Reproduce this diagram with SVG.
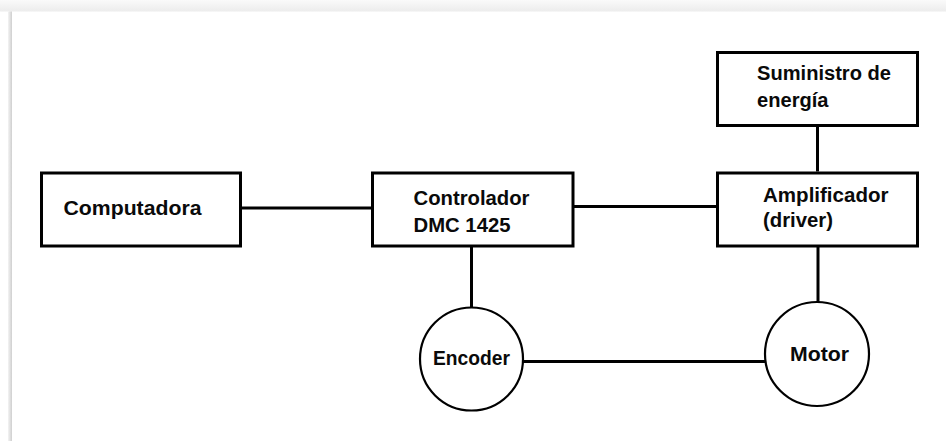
<svg xmlns="http://www.w3.org/2000/svg" width="946" height="441" viewBox="0 0 946 441">
  <defs>
    <linearGradient id="topShade" x1="0" y1="0" x2="0" y2="1">
      <stop offset="0" stop-color="#fafafa"/>
      <stop offset="1" stop-color="#ececec"/>
    </linearGradient>
    <linearGradient id="leftShade" x1="0" y1="0" x2="1" y2="0">
      <stop offset="0" stop-color="#f4f4f4"/>
      <stop offset="1" stop-color="#cfcfcf"/>
    </linearGradient>
  </defs>
  <style>
    .box { fill: #ffffff; stroke: #000000; stroke-width: 3; }
    .circ { fill: #ffffff; stroke: #000000; stroke-width: 2.2; }
    .wire { stroke: #000000; stroke-width: 3; fill: none; }
    .lbl { font-family: "Liberation Sans", Arial, sans-serif; font-weight: bold; font-size: 19.5px; fill: #0a0a0a; }
  </style>
  <rect x="0" y="0" width="946" height="441" fill="#ffffff"/>
  <rect x="0" y="0" width="946" height="11.5" fill="url(#topShade)"/>
  <rect x="8" y="11.5" width="4" height="429.5" fill="url(#leftShade)"/>

  <g id="connectors">
    <line class="wire" x1="242" y1="208" x2="371" y2="208"/>
    <line class="wire" x1="574" y1="206.5" x2="716" y2="206.5"/>
    <line class="wire" x1="817.5" y1="127" x2="817.5" y2="171.5"/>
    <line class="wire" x1="471.5" y1="247" x2="471.5" y2="308"/>
    <line class="wire" x1="818" y1="247" x2="818" y2="302"/>
    <line class="wire" x1="523" y1="361.5" x2="765" y2="361.5"/>
  </g>

  <g id="computadora">
    <rect class="box" x="41.5" y="173" width="199" height="73"/>
    <text class="lbl" x="63.5" y="215" textLength="138" lengthAdjust="spacingAndGlyphs">Computadora</text>
  </g>

  <g id="controlador">
    <rect class="box" x="372.5" y="173" width="200.5" height="73"/>
    <text class="lbl" x="413.5" y="205" textLength="116" lengthAdjust="spacingAndGlyphs">Controlador</text>
    <text class="lbl" x="413.5" y="232" textLength="97" lengthAdjust="spacingAndGlyphs">DMC 1425</text>
  </g>

  <g id="suministro">
    <rect class="box" x="717.5" y="52.5" width="200" height="73"/>
    <text class="lbl" x="757" y="80" textLength="134" lengthAdjust="spacingAndGlyphs">Suministro de</text>
    <text class="lbl" x="757" y="106.5" textLength="71.5" lengthAdjust="spacingAndGlyphs">energía</text>
  </g>

  <g id="amplificador">
    <rect class="box" x="717.5" y="173" width="200" height="73"/>
    <text class="lbl" x="763" y="202" textLength="125.5" lengthAdjust="spacingAndGlyphs">Amplificador</text>
    <text class="lbl" x="763" y="227" textLength="70" lengthAdjust="spacingAndGlyphs">(driver)</text>
  </g>

  <g id="encoder">
    <circle class="circ" cx="471.5" cy="359" r="51.5"/>
    <text class="lbl" x="433" y="365" textLength="77" lengthAdjust="spacingAndGlyphs">Encoder</text>
  </g>

  <g id="motor">
    <circle class="circ" cx="817" cy="354" r="52"/>
    <text class="lbl" x="790" y="360.5" textLength="59" lengthAdjust="spacingAndGlyphs">Motor</text>
  </g>
</svg>
